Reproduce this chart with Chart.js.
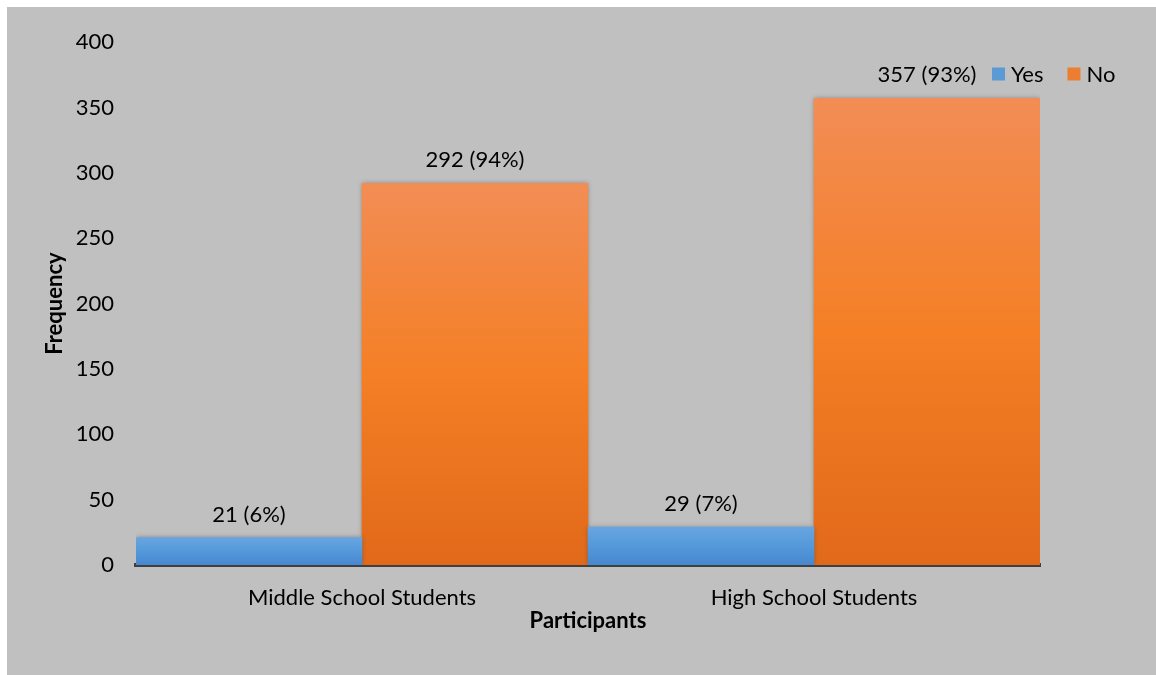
<!DOCTYPE html>
<html>
<head>
<meta charset="utf-8">
<script src="https://cdn.jsdelivr.net/npm/chart.js@4/dist/chart.umd.min.js"></script>
<style>
  html, body { margin: 0; padding: 0; background: #ffffff; }
  #frame {
    position: absolute;
    left: 7px;
    top: 7px;
    width: 1149px;
    height: 668px;
    background: #c0c0c0;
  }
  canvas { display: block; }
</style>
</head>
<body>
<div id="frame">
  <canvas id="chart" width="1149" height="668"></canvas>
</div>
<script>
const categories = ["Middle School Students", "High School Students"];
const yesCounts = [21, 29];
const noCounts = [292, 357];
const yesPercent = [6, 7];
const noPercent = [94, 93];
const yTicks = [0, 50, 100, 150, 200, 250, 300, 350, 400];

const FONT = "Lato, 'Open Sans', sans-serif";

const palette = {
  yes: { top: "#68a5e0", mid: "#5499da", bottom: "#4787cf", swatch: "#5b9bd5" },
  no: { top: "#f28d55", mid: "#f47f25", bottom: "#e1691a", swatch: "#ed7d31" }
};

// gradient spans each bar from its top to the baseline
function barGradient(colors) {
  return (ctx) => {
    const chart = ctx.chart;
    const yScale = chart.scales.y;
    if (!chart.chartArea || !yScale || ctx.raw === undefined) return colors.mid;
    const top = yScale.getPixelForValue(ctx.raw);
    const base = yScale.getPixelForValue(0);
    if (!(base > top)) return colors.mid;
    const g = chart.ctx.createLinearGradient(0, top, 0, base);
    g.addColorStop(0, colors.top);
    g.addColorStop(0.5, colors.mid);
    g.addColorStop(1, colors.bottom);
    return g;
  };
}

const barShadow = {
  id: "barShadow",
  beforeDatasetsDraw(chart) {
    const c = chart.ctx;
    c.save();
    c.shadowColor = "rgba(0, 0, 0, 0.35)";
    c.shadowBlur = 5;
    c.shadowOffsetX = 0;
    c.shadowOffsetY = 0;
  },
  afterDatasetsDraw(chart) {
    chart.ctx.restore();
  }
};

const valueLabels = {
  id: "valueLabels",
  afterDatasetsDraw(chart) {
    const c = chart.ctx;
    const percents = [yesPercent, noPercent];
    c.save();
    c.font = `22px ${FONT}`;
    c.fillStyle = "#000000";
    c.textAlign = "center";
    c.textBaseline = "middle";
    chart.data.datasets.forEach((ds, di) => {
      const meta = chart.getDatasetMeta(di);
      meta.data.forEach((bar, i) => {
        c.fillText(`${ds.data[i]} (${percents[di][i]}%)`, bar.x, bar.y - 23);
      });
    });
    c.restore();
  }
};

const cornerLegend = {
  id: "cornerLegend",
  afterDraw(chart) {
    const c = chart.ctx;
    const swatches = [palette.yes.swatch, palette.no.swatch];
    let x = 985;
    const y = 68;
    const box = 13;
    c.save();
    c.font = `22px ${FONT}`;
    c.textBaseline = "middle";
    c.textAlign = "left";
    chart.data.datasets.forEach((ds, di) => {
      c.fillStyle = swatches[di];
      c.fillRect(x, y - box / 2 - 1, box, box);
      c.fillStyle = "#000000";
      c.fillText(ds.label, x + box + 6, y);
      x += box + 6 + c.measureText(ds.label).width + 24;
    });
    c.restore();
  }
};

new Chart(document.getElementById("chart"), {
  type: "bar",
  data: {
    labels: categories,
    datasets: [
      {
        label: "Yes",
        data: yesCounts,
        backgroundColor: barGradient(palette.yes),
        borderWidth: 0
      },
      {
        label: "No",
        data: noCounts,
        backgroundColor: barGradient(palette.no),
        borderWidth: 0
      }
    ]
  },
  options: {
    responsive: false,
    devicePixelRatio: 1,
    animation: false,
    layout: { padding: { left: 0, right: 116, top: 31, bottom: 0 } },
    datasets: {
      bar: { categoryPercentage: 1, barPercentage: 1 }
    },
    scales: {
      x: {
        z: 1,
        grid: { display: false, drawTicks: false },
        border: { display: true, color: "#3f3f3f", width: 4 },
        ticks: { color: "#000000", font: { family: FONT, size: 22 }, padding: 20, maxRotation: 0 },
        title: {
          display: true,
          text: "Participants",
          color: "#000000",
          font: { family: FONT, size: 22, weight: "bold" },
          padding: { top: 0, bottom: 41 }
        },
        afterFit(scale) { scale.height = 110; }
      },
      y: {
        min: 0,
        max: 400,
        grid: { display: false, drawTicks: false },
        border: { display: false },
        afterBuildTicks(scale) { scale.ticks = yTicks.map((v) => ({ value: v })); },
        ticks: { color: "#000000", font: { family: FONT, size: 22 }, padding: 22 },
        title: {
          display: true,
          text: "Frequency",
          color: "#000000",
          font: { family: FONT, size: 22, weight: "bold" },
          padding: { top: 35, bottom: 0 }
        },
        afterFit(scale) { scale.width = 129; }
      }
    },
    plugins: {
      legend: { display: false },
      tooltip: { enabled: false }
    }
  },
  plugins: [barShadow, valueLabels, cornerLegend]
});
</script>
</body>
</html>
